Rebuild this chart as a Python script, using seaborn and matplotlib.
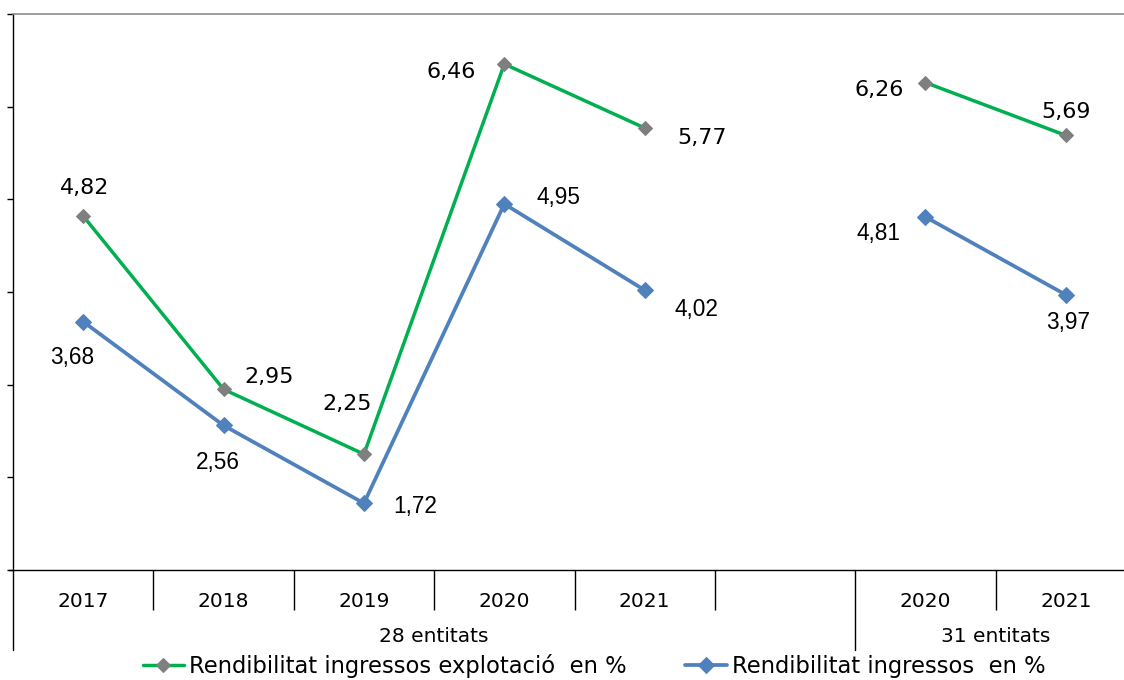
import matplotlib
matplotlib.use("Agg")
import matplotlib.pyplot as plt
import seaborn as sns
import pandas as pd
import numpy as np

# ---- data ----
categories = ["2017", "2018", "2019", "2020", "2021", "", "2020", "2021"]
groups = ["28 entitats", "28 entitats", "28 entitats", "28 entitats", "28 entitats", "", "31 entitats", "31 entitats"]
explotacio = [4.82, 2.95, 2.25, 6.46, 5.77, np.nan, 6.26, 5.69]
ingressos = [3.68, 2.56, 1.72, 4.95, 4.02, np.nan, 4.81, 3.97]
series_names = ["Rendibilitat ingressos explotació  en %", "Rendibilitat ingressos  en %"]
group_labels = ["28 entitats", "31 entitats"]

def fmt(v):
    return f"{v:.2f}".replace(".", ",")

sns.set_theme(style="white")
plt.rcParams["font.family"] = ["DejaVu Sans"]
plt.rcParams["text.color"] = "black"
plt.rcParams["xtick.color"] = "black"
plt.rcParams["ytick.color"] = "black"

fig = plt.figure(figsize=(11.24, 6.8), dpi=100)
ax = fig.add_axes([13/1124, 110/680, 1123/1124, 556/680])

pos = np.arange(len(categories))
df = pd.DataFrame({"pos": pos, "grup": groups,
                   series_names[0]: explotacio, series_names[1]: ingressos})

green = "#00B050"
blue = "#4F81BD"
gray = "#7F7F7F"

styles = {
    series_names[0]: dict(color=green, lw=2.5, marker="D", ms=7.5, mfc=gray, mec=gray),
    series_names[1]: dict(color=blue, lw=2.7, marker="D", ms=8.5, mfc=blue, mec=blue),
}

handles = []
for name in series_names:
    first = True
    for g in group_labels:
        sub = df[df["grup"] == g]
        sns.lineplot(data=sub, x="pos", y=name, ax=ax, estimator=None,
                     label=name if first else None, legend=False,
                     **styles[name])
        if first:
            handles.append(ax.get_lines()[-1])
        first = False

# data labels (offsets in points)
off_exp = [(1, 20), (33, 9), (-12, 36), (-38, -6), (41, -7), (-33, -5), (0, 17)]
off_ing = [(-8, -26), (-4, -27), (37, -2), (39, 5), (37, -14), (-34, -12), (2, -20)]
vals_exp = [v for v in explotacio if not np.isnan(v)]
vals_ing = [v for v in ingressos if not np.isnan(v)]
pos_valid = [p for p, v in zip(pos, explotacio) if not np.isnan(v)]
for p, v, o in zip(pos_valid, vals_exp, off_exp):
    ax.annotate(fmt(v), (p, v), xytext=o, textcoords="offset points",
                ha="center", va="center", fontsize=16, color="black",
                family="DejaVu Sans")
for p, v, o in zip(pos_valid, vals_ing, off_ing):
    ax.annotate(fmt(v), (p, v), xytext=o, textcoords="offset points",
                ha="center", va="center", fontsize=16.3, color="black",
                family="Liberation Sans")

# axes
ax.set_xlim(-0.5, len(categories) - 0.5)
ax.set_ylim(1, 7)
ax.set_yticks(range(1, 8))
ax.set_yticklabels([])
ax.set_xticks(pos)
ax.set_xticklabels(categories, fontsize=14.5, color="black")
ax.set_xlabel("")
ax.set_ylabel("")
ax.tick_params(axis="x", which="major", length=0, pad=15.5, colors="black")
ax.tick_params(axis="y", which="major", length=4, width=1, direction="out",
               left=True, color="black")
minor = [0.5, 1.5, 2.5, 3.5, 4.5, 6.5]
ax.set_xticks(minor, minor=True)
ax.tick_params(axis="x", which="minor", length=29, width=1, direction="out",
               bottom=True, color="black")
for s in ["left", "bottom"]:
    ax.spines[s].set_color("black")
    ax.spines[s].set_linewidth(1)
ax.spines["top"].set_color("#8C8C8C")
ax.spines["top"].set_linewidth(1.2)
ax.spines["right"].set_visible(False)

trans = ax.get_xaxis_transform()
for xb in [-0.5, 5.5]:
    ax.plot([xb, xb], [0, -80/556], transform=trans, color="black", lw=1,
            clip_on=False)
ax.plot([-0.53, -0.5], [0, 0], transform=trans, color="black", lw=1, clip_on=False)

ax.text(2.5, -67/556, group_labels[0], transform=trans, ha="center", va="center",
        fontsize=14.5, color="black")
ax.text(6.5, -67/556, group_labels[1], transform=trans, ha="center", va="center",
        fontsize=14.5, color="black")

leg = fig.legend(handles=handles, labels=series_names, loc="center",
                 bbox_to_anchor=(594/1124, 1 - 666/680), ncol=2, frameon=False,
                 fontsize=16.3, handlelength=1.85, handletextpad=0.2, columnspacing=2.6,
                 borderaxespad=0, borderpad=0)
for t in leg.get_texts():
    t.set_color("black")

fig.savefig("out.png", dpi=100)
